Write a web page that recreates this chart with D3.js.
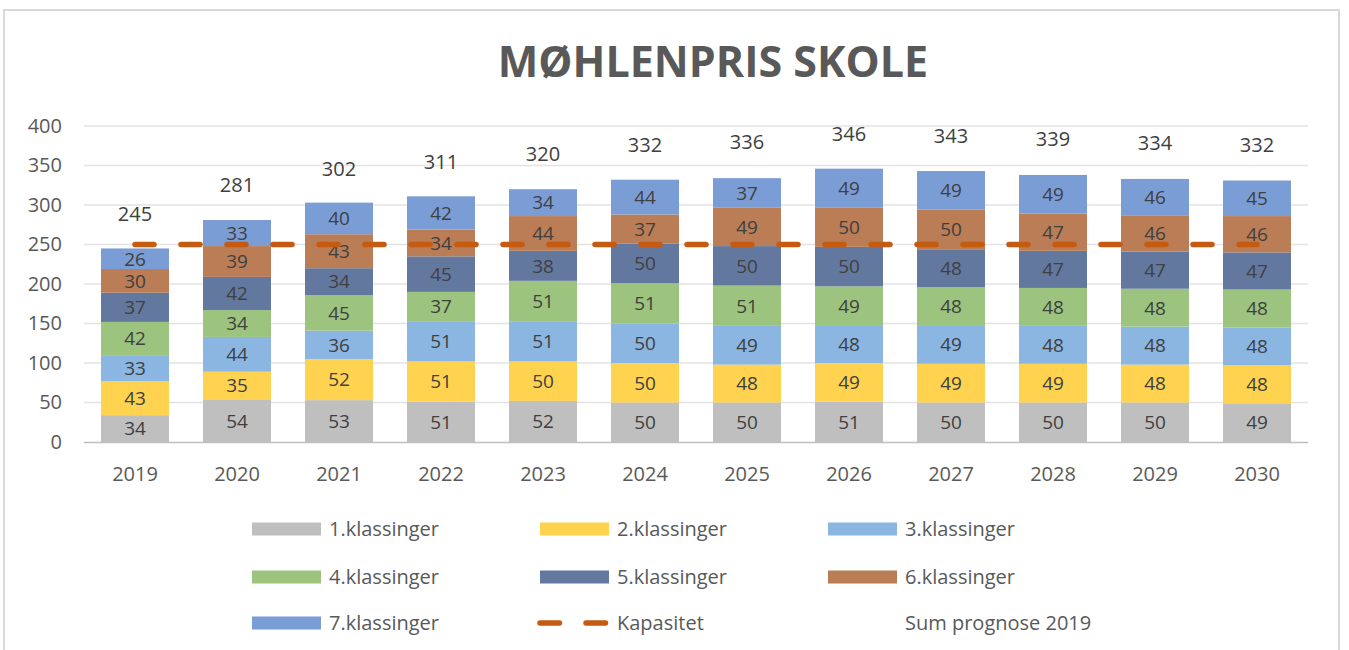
<!DOCTYPE html>
<html lang="no">
<head>
<meta charset="utf-8">
<title>Møhlenpris skole</title>
<script src="https://d3js.org/d3.v7.min.js"></script>
<style>
  body { margin: 0; background: #fff; }
  text { font-family: "Open Sans", "Noto Sans", sans-serif; }
</style>
</head>
<body>
<div id="chart"></div>
<script>
// data
var years = ["2019","2020","2021","2022","2023","2024","2025","2026","2027","2028","2029","2030"];
var seriesNames = ["1.klassinger","2.klassinger","3.klassinger","4.klassinger","5.klassinger","6.klassinger","7.klassinger"];
var k1 = [34,54,53,51,52,50,50,51,50,50,50,49];
var k2 = [43,35,52,51,50,50,48,49,49,49,48,48];
var k3 = [33,44,36,51,51,50,49,48,49,48,48,48];
var k4 = [42,34,45,37,51,51,51,49,48,48,48,48];
var k5 = [37,42,34,45,38,50,50,50,48,47,47,47];
var k6 = [30,39,43,34,44,37,49,50,50,47,46,46];
var k7 = [26,33,40,42,34,44,37,49,49,49,46,45];
var kapasitet = [250,250,250,250,250,250,250,250,250,250,250,250];
var sumPrognose = [245,281,302,311,320,332,336,346,343,339,334,332];
var yTicks = [0,50,100,150,200,250,300,350,400];
var colors = ["#BFBFBF","#FFD34F","#8BB6E2","#9CC47F","#63789F","#BA7D55","#7B9DD6"];

var W = 1349, H = 650;
var svg = d3.select("#chart").append("svg")
    .attr("width", W)
    .attr("height", H);

// frame
svg.append("rect")
    .attr("x", 4).attr("y", 10)
    .attr("width", 1335).attr("height", 660)
    .attr("fill", "#fff")
    .attr("stroke", "#D9D9D9")
    .attr("stroke-width", 2);

svg.append("text")
    .attr("x", 713).attr("y", 77)
    .attr("text-anchor", "middle")
    .attr("font-size", 43)
    .attr("font-weight", "bold")
    .attr("fill", "#595959")
    .text("MØHLENPRIS SKOLE");

var x = d3.scaleBand().domain(years).range([84, 1308]).paddingInner(1/3).paddingOuter(1/6);
var y = d3.scaleLinear().domain([0, 400]).range([442, 126]);

// gridlines
svg.append("g").selectAll("line")
    .data(yTicks.filter(function(d){ return d > 0; }))
    .enter().append("line")
    .attr("x1", 84).attr("x2", 1308)
    .attr("y1", function(d){ return y(d); })
    .attr("y2", function(d){ return y(d); })
    .attr("stroke", "#E3E3E3")
    .attr("stroke-width", 1.5);

// y axis
var yAxis = svg.append("g")
    .attr("transform", "translate(84,0)")
    .call(d3.axisLeft(y).tickValues(yTicks).tickSize(0).tickPadding(22));
yAxis.select(".domain").remove();
yAxis.selectAll("text")
    .attr("font-size", 20)
    .attr("fill", "#595959")
    .attr("font-family", "Open Sans, sans-serif");

// stacked bars
var rows = years.map(function(yr, i) {
    return { year: yr, s0: k1[i], s1: k2[i], s2: k3[i], s3: k4[i], s4: k5[i], s5: k6[i], s6: k7[i] };
});
var keys = ["s0","s1","s2","s3","s4","s5","s6"];
var stacked = d3.stack().keys(keys)(rows);

var layers = svg.append("g").selectAll("g")
    .data(stacked)
    .enter().append("g")
    .attr("fill", function(d, i){ return colors[i]; });

layers.selectAll("rect")
    .data(function(d){ return d; })
    .enter().append("rect")
    .attr("x", function(d){ return x(d.data.year); })
    .attr("width", x.bandwidth())
    .attr("y", function(d){ return y(d[1]); })
    .attr("height", function(d){ return y(d[0]) - y(d[1]); });

layers.selectAll("text")
    .data(function(d){ return d; })
    .enter().append("text")
    .attr("x", function(d){ return x(d.data.year) + x.bandwidth() / 2; })
    .attr("y", function(d){ return (y(d[0]) + y(d[1])) / 2; })
    .attr("dy", "0.36em")
    .attr("text-anchor", "middle")
    .attr("font-size", 19)
    .attr("fill", "#404040")
    .text(function(d){ return d[1] - d[0]; });

// x axis
svg.append("line")
    .attr("x1", 84).attr("x2", 1308)
    .attr("y1", 442.5).attr("y2", 442.5)
    .attr("stroke", "#BFBFBF")
    .attr("stroke-width", 1.5);

svg.append("g").selectAll("text")
    .data(years)
    .enter().append("text")
    .attr("x", function(d){ return x(d) + x.bandwidth() / 2; })
    .attr("y", 481)
    .attr("text-anchor", "middle")
    .attr("font-size", 20)
    .attr("fill", "#595959")
    .text(function(d){ return d; });

// kapasitet line
var line = d3.line()
    .x(function(d, i){ return x(years[i]) + x.bandwidth() / 2; })
    .y(function(d){ return y(d); });

svg.append("path")
    .datum(kapasitet)
    .attr("d", line)
    .attr("fill", "none")
    .attr("stroke", "#C55A11")
    .attr("stroke-width", 5.5)
    .attr("stroke-linecap", "round")
    .attr("stroke-dasharray", "19,27");

// sum labels
svg.append("g").selectAll("text")
    .data(sumPrognose)
    .enter().append("text")
    .attr("x", function(d, i){ return x(years[i]) + x.bandwidth() / 2; })
    .attr("y", function(d){ return y(d) - 35; })
    .attr("dy", "0.36em")
    .attr("text-anchor", "middle")
    .attr("font-size", 20)
    .attr("fill", "#404040")
    .text(function(d){ return d; });

// legend
var legendItems = seriesNames.map(function(n, i){ return { name: n, type: "bar", color: colors[i] }; });
legendItems.push({ name: "Kapasitet", type: "line", color: "#C55A11" });
legendItems.push({ name: "Sum prognose 2019", type: "none" });

var leg = svg.append("g").selectAll("g")
    .data(legendItems)
    .enter().append("g")
    .attr("transform", function(d, i){
        return "translate(" + (252 + (i % 3) * 288) + "," + [529, 577, 623][Math.floor(i / 3)] + ")";
    });

leg.filter(function(d){ return d.type === "bar"; })
    .append("rect")
    .attr("x", 0).attr("y", -6.5)
    .attr("width", 69).attr("height", 13)
    .attr("fill", function(d){ return d.color; });

leg.filter(function(d){ return d.type === "line"; })
    .append("line")
    .attr("x1", 0).attr("x2", 66)
    .attr("y1", 0).attr("y2", 0)
    .attr("stroke", function(d){ return d.color; })
    .attr("stroke-width", 5.5)
    .attr("stroke-linecap", "round")
    .attr("stroke-dasharray", "19.5,26.5");

leg.append("text")
    .attr("x", 77)
    .attr("y", 0)
    .attr("dy", "0.36em")
    .attr("font-size", 20)
    .attr("fill", "#595959")
    .text(function(d){ return d.name; });
</script>
</body>
</html>
